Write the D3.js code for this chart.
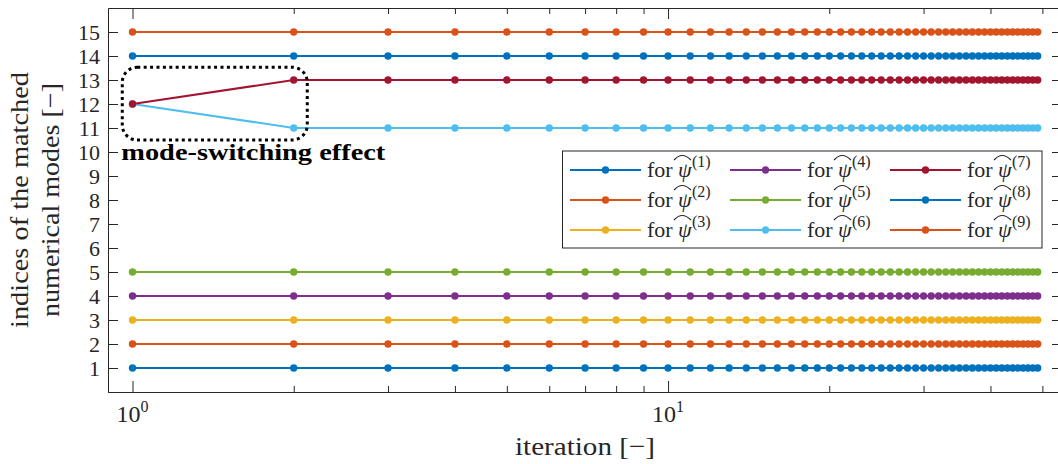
<!DOCTYPE html>
<html>
<head>
<meta charset="utf-8">
<script src="https://cdn.jsdelivr.net/npm/d3@7"></script>
<style>
  html, body { margin: 0; padding: 0; background: #fff; }
  svg { display: block; }
  text { font-family: "Liberation Serif", "Times New Roman", serif; fill: #262626; }
</style>
</head>
<body>
<svg id="chart" width="1058" height="464"></svg>
<script>
// iteration numbers on the (log) x axis
const iterations = [
  1, 2, 3, 4, 5, 6, 7, 8, 9, 10,
  11, 12, 13, 14, 15, 16, 17, 18, 19, 20,
  21, 22, 23, 24, 25, 26, 27, 28, 29, 30,
  31, 32, 33, 34, 35, 36, 37, 38, 39, 40,
  41, 42, 43, 44, 45, 46, 47, 48, 49
];

// matched numerical mode index per iteration, one array per reference mode
const psi1 = [
  1, 1, 1, 1, 1, 1, 1, 1, 1, 1,
  1, 1, 1, 1, 1, 1, 1, 1, 1, 1,
  1, 1, 1, 1, 1, 1, 1, 1, 1, 1,
  1, 1, 1, 1, 1, 1, 1, 1, 1, 1,
  1, 1, 1, 1, 1, 1, 1, 1, 1
];
const psi2 = [
  2, 2, 2, 2, 2, 2, 2, 2, 2, 2,
  2, 2, 2, 2, 2, 2, 2, 2, 2, 2,
  2, 2, 2, 2, 2, 2, 2, 2, 2, 2,
  2, 2, 2, 2, 2, 2, 2, 2, 2, 2,
  2, 2, 2, 2, 2, 2, 2, 2, 2
];
const psi3 = [
  3, 3, 3, 3, 3, 3, 3, 3, 3, 3,
  3, 3, 3, 3, 3, 3, 3, 3, 3, 3,
  3, 3, 3, 3, 3, 3, 3, 3, 3, 3,
  3, 3, 3, 3, 3, 3, 3, 3, 3, 3,
  3, 3, 3, 3, 3, 3, 3, 3, 3
];
const psi4 = [
  4, 4, 4, 4, 4, 4, 4, 4, 4, 4,
  4, 4, 4, 4, 4, 4, 4, 4, 4, 4,
  4, 4, 4, 4, 4, 4, 4, 4, 4, 4,
  4, 4, 4, 4, 4, 4, 4, 4, 4, 4,
  4, 4, 4, 4, 4, 4, 4, 4, 4
];
const psi5 = [
  5, 5, 5, 5, 5, 5, 5, 5, 5, 5,
  5, 5, 5, 5, 5, 5, 5, 5, 5, 5,
  5, 5, 5, 5, 5, 5, 5, 5, 5, 5,
  5, 5, 5, 5, 5, 5, 5, 5, 5, 5,
  5, 5, 5, 5, 5, 5, 5, 5, 5
];
const psi6 = [
  12, 11, 11, 11, 11, 11, 11, 11, 11, 11,
  11, 11, 11, 11, 11, 11, 11, 11, 11, 11,
  11, 11, 11, 11, 11, 11, 11, 11, 11, 11,
  11, 11, 11, 11, 11, 11, 11, 11, 11, 11,
  11, 11, 11, 11, 11, 11, 11, 11, 11
];
const psi7 = [
  12, 13, 13, 13, 13, 13, 13, 13, 13, 13,
  13, 13, 13, 13, 13, 13, 13, 13, 13, 13,
  13, 13, 13, 13, 13, 13, 13, 13, 13, 13,
  13, 13, 13, 13, 13, 13, 13, 13, 13, 13,
  13, 13, 13, 13, 13, 13, 13, 13, 13
];
const psi8 = [
  14, 14, 14, 14, 14, 14, 14, 14, 14, 14,
  14, 14, 14, 14, 14, 14, 14, 14, 14, 14,
  14, 14, 14, 14, 14, 14, 14, 14, 14, 14,
  14, 14, 14, 14, 14, 14, 14, 14, 14, 14,
  14, 14, 14, 14, 14, 14, 14, 14, 14
];
const psi9 = [
  15, 15, 15, 15, 15, 15, 15, 15, 15, 15,
  15, 15, 15, 15, 15, 15, 15, 15, 15, 15,
  15, 15, 15, 15, 15, 15, 15, 15, 15, 15,
  15, 15, 15, 15, 15, 15, 15, 15, 15, 15,
  15, 15, 15, 15, 15, 15, 15, 15, 15
];

const seriesValues = [psi1, psi2, psi3, psi4, psi5, psi6, psi7, psi8, psi9];
const seriesSuper = ["(1)", "(2)", "(3)", "(4)", "(5)", "(6)", "(7)", "(8)", "(9)"];
const seriesColors = ["#0072BD", "#D95319", "#EDB120", "#7E2F8E", "#77AC30",
                      "#4DBEEE", "#A2142F", "#0072BD", "#D95319"];

const yTicks = [1, 2, 3, 4, 5, 6, 7, 8, 9, 10, 11, 12, 13, 14, 15];
const xMajorTicks = [1, 10];
const xMajorExponents = ["0", "1"];
const xMinorTicks = [2, 3, 4, 5, 6, 7, 8, 9, 20, 30, 40, 50];

// annotation box around the switch (data coordinates)
const switchBoxX = [0.957, 2.12];
const switchBoxY = [10.5, 13.53];
const switchText = "mode-switching effect";

const svg = d3.select("#chart");
const ink = "#262626";

// plot box: left 108, top 8, bottom 392; right border sits just off the image
const x = d3.scaleLog().domain([0.9, 54.4]).range([108, 1062]);
const y = d3.scaleLinear().domain([0, 16]).range([392, 8]);

function styleAxis(g) {
    g.select(".domain").attr("stroke", ink).attr("stroke-width", 1);
    g.selectAll(".tick line").attr("stroke", ink).attr("stroke-width", 1);
    g.selectAll("text").remove();
}

// --- axes ---
const axes = svg.append("g").attr("class", "axes");

// left y axis with labels
const yLeft = axes.append("g")
    .attr("transform", `translate(${x.range()[0]},0)`)
    .call(d3.axisLeft(y).tickValues(yTicks).tickSize(-10).tickSizeOuter(0).tickPadding(8));
yLeft.select(".domain").attr("stroke", ink);
yLeft.selectAll(".tick line").attr("stroke", ink);
yLeft.selectAll("text")
    .attr("fill", ink)
    .style("font-size", "22px")
    .style("font-family", '"Liberation Serif", serif')
    .attr("dy", "0.34em");

// right y axis (ticks only)
axes.append("g")
    .attr("transform", `translate(${x.range()[1]},0)`)
    .call(d3.axisRight(y).tickValues(yTicks).tickSize(-10).tickSizeOuter(0))
    .call(styleAxis);

// bottom x axis: major + minor ticks
axes.append("g")
    .attr("transform", `translate(0,${y.range()[0]})`)
    .call(d3.axisBottom(x).tickValues(xMajorTicks).tickSize(-11).tickSizeOuter(0))
    .call(styleAxis);
axes.append("g")
    .attr("transform", `translate(0,${y.range()[0]})`)
    .call(d3.axisBottom(x).tickValues(xMinorTicks).tickSize(-6).tickSizeOuter(0))
    .call(styleAxis);

// top x axis
axes.append("g")
    .attr("transform", `translate(0,${y.range()[1]})`)
    .call(d3.axisTop(x).tickValues(xMajorTicks).tickSize(-11).tickSizeOuter(0))
    .call(styleAxis);
axes.append("g")
    .attr("transform", `translate(0,${y.range()[1]})`)
    .call(d3.axisTop(x).tickValues(xMinorTicks).tickSize(-6).tickSizeOuter(0))
    .call(styleAxis);

// x tick labels 10^k
const xLab = axes.append("g").selectAll("text")
    .data(xMajorTicks)
    .join("text")
    .attr("x", d => x(d))
    .attr("y", 422)
    .attr("text-anchor", "middle")
    .style("font-size", "24px");
xLab.append("tspan").text("10");
xLab.append("tspan")
    .attr("dy", -10)
    .style("font-size", "16px")
    .text((d, i) => xMajorExponents[i]);

// axis titles
svg.append("text")
    .attr("x", (x.range()[0] + x.range()[1]) / 2)
    .attr("y", 455)
    .attr("text-anchor", "middle")
    .attr("textLength", 140)
    .attr("lengthAdjust", "spacingAndGlyphs")
    .style("font-size", "26px")
    .text("iteration [\u2212]");

const yTitle = svg.append("g")
    .attr("transform", `translate(0,${(y.range()[0] + y.range()[1]) / 2}) rotate(-90)`);
yTitle.append("text")
    .attr("x", 0).attr("y", 28)
    .attr("text-anchor", "middle")
    .attr("textLength", 256)
    .attr("lengthAdjust", "spacingAndGlyphs")
    .style("font-size", "26px")
    .text("indices of the matched");
yTitle.append("text")
    .attr("x", 0).attr("y", 59)
    .attr("text-anchor", "middle")
    .attr("textLength", 234)
    .attr("lengthAdjust", "spacingAndGlyphs")
    .style("font-size", "26px")
    .text("numerical modes [\u2212]");

// --- series ---
const line = d3.line()
    .x((d, i) => x(iterations[i]))
    .y(d => y(d));

const plot = svg.append("g").attr("class", "series");
seriesValues.forEach((vals, s) => {
    const g = plot.append("g");
    g.append("path")
        .datum(vals)
        .attr("fill", "none")
        .attr("stroke", seriesColors[s])
        .attr("stroke-width", 2)
        .attr("d", line);
    g.selectAll("circle")
        .data(vals)
        .join("circle")
        .attr("cx", (d, i) => x(iterations[i]))
        .attr("cy", d => y(d))
        .attr("r", 3.7)
        .attr("fill", seriesColors[s]);
});

// --- annotation ---
svg.append("rect")
    .attr("x", x(switchBoxX[0]))
    .attr("y", y(switchBoxY[1]))
    .attr("width", x(switchBoxX[1]) - x(switchBoxX[0]))
    .attr("height", y(switchBoxY[0]) - y(switchBoxY[1]))
    .attr("rx", 15).attr("ry", 15)
    .attr("fill", "none")
    .attr("stroke", "#000")
    .attr("stroke-width", 3)
    .attr("stroke-dasharray", "3 3.4");

svg.append("text")
    .attr("x", x(switchBoxX[0]) - 1)
    .attr("y", 160)
    .attr("textLength", 264)
    .attr("lengthAdjust", "spacingAndGlyphs")
    .style("font-size", "24px")
    .style("font-weight", "bold")
    .style("fill", "#000")
    .text(switchText);

// --- legend ---
const legend = svg.append("g").attr("class", "legend");
legend.append("rect")
    .attr("x", 562.5).attr("y", 151)
    .attr("width", 479.5).attr("height", 97)
    .attr("fill", "#fff")
    .attr("stroke", ink)
    .attr("stroke-width", 1);

seriesValues.forEach((vals, s) => {
    const col = Math.floor(s / 3), row = s % 3;
    const lx = 570 + col * 160, ly = 170 + row * 30;
    const item = legend.append("g").attr("transform", `translate(${lx},${ly})`);
    item.append("line")
        .attr("x1", 0).attr("x2", 71).attr("y1", 0).attr("y2", 0)
        .attr("stroke", seriesColors[s]).attr("stroke-width", 2);
    item.append("circle")
        .attr("cx", 35.5).attr("cy", 0).attr("r", 3.7)
        .attr("fill", seriesColors[s]);
    const tx = 77;
    item.append("text")
        .attr("x", tx).attr("y", 7)
        .style("font-size", "22px")
        .text("for");
    item.append("text")
        .attr("x", tx + 31).attr("y", 7)
        .style("font-size", "22px")
        .style("font-style", "italic")
        .text("\u03C8");
    // wide hat over psi
    item.append("path")
        .attr("d", `M${tx + 27},${-10} Q${tx + 35},${-19} ${tx + 44},${-10}`)
        .attr("fill", "none")
        .attr("stroke", ink)
        .attr("stroke-width", 1.2);
    item.append("text")
        .attr("x", tx + 45).attr("y", -3)
        .style("font-size", "16px")
        .text(seriesSuper[s]);
});
</script>
</body>
</html>
